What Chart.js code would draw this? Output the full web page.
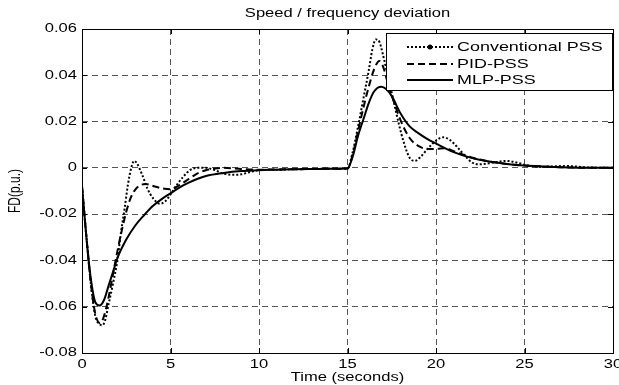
<!DOCTYPE html>
<html>
<head>
<meta charset="utf-8">
<script src="https://cdn.jsdelivr.net/npm/chart.js@4/dist/chart.umd.min.js"></script>
<style>
  html, body { margin: 0; padding: 0; background: #fff; }
  #wrap { width: 619px; height: 385px; position: relative; }
</style>
</head>
<body>
<div id="wrap"><canvas id="fd-chart"></canvas></div>
<script>
// Axis ticks
const xTicks = [0, 5, 10, 15, 20, 25, 30];
const yTicks = [-0.08, -0.06, -0.04, -0.02, 0, 0.02, 0.04, 0.06];

// Conventional PSS (dotted)
const convTime = [0, 0.25, 0.5, 0.75, 1.0, 1.15, 1.3, 1.5, 1.75, 2.0, 2.2, 2.4, 2.6, 2.8, 2.95, 3.1, 3.4, 3.7, 4.0, 4.4, 4.7, 5.0, 5.3, 5.7, 6.1, 6.5, 7.0, 7.5, 8.0, 8.5, 9.0, 9.5, 10, 11, 12, 13, 14, 15,
  15.3, 15.6, 15.9, 16.2, 16.4, 16.6, 16.8, 17.0, 17.3, 17.6, 17.9, 18.2, 18.5, 18.8, 19.1, 19.5, 20.0, 20.4, 20.8, 21.2, 21.6, 22.0, 22.4, 23, 24, 24.6, 25.2, 26, 27.4, 28.5, 30];
const convValues = [-0.008, -0.03, -0.05, -0.064, -0.0675, -0.068, -0.066, -0.059, -0.05, -0.04, -0.028, -0.018, -0.007, 0.0005, 0.003, 0.002, -0.003, -0.009, -0.013, -0.0155, -0.0145, -0.0115, -0.008, -0.004, -0.001, 0, 0, -0.001, -0.0025, -0.003, -0.0028, -0.0018, -0.001, -0.0008, -0.0006, -0.0005, -0.0004, -0.0003,
  0.007, 0.018, 0.03, 0.042, 0.051, 0.0555, 0.0545, 0.049, 0.039, 0.029, 0.019, 0.0105, 0.0045, 0.003, 0.0045, 0.008, 0.0118, 0.0132, 0.012, 0.009, 0.0055, 0.0025, 0.0015, 0.002, 0.003, 0.0022, 0.001, 0.0005, 0.0008, 0.0002, 0];

// PID-PSS (dashed)
const pidTime = [0, 0.25, 0.5, 0.75, 1.0, 1.2, 1.5, 1.75, 2.0, 2.25, 2.5, 2.75, 3.0, 3.3, 3.6, 4.0, 4.5, 5.0, 5.5, 6.0, 6.5, 7.0, 7.5, 8.0, 9.0, 10, 11, 12, 13, 14, 15,
  15.3, 15.6, 15.9, 16.2, 16.5, 16.8, 17.0, 17.3, 17.6, 18.0, 18.5, 19.0, 19.5, 20.0, 20.5, 21, 22, 23, 24, 25, 26, 27, 28, 30];
const pidValues = [-0.008, -0.03, -0.05, -0.063, -0.067, -0.065, -0.056, -0.046, -0.036, -0.027, -0.019, -0.013, -0.0095, -0.0075, -0.007, -0.0078, -0.0088, -0.0092, -0.0075, -0.005, -0.0025, -0.001, -0.0003, 0, -0.0005, -0.0008, -0.0007, -0.0006, -0.0005, -0.0004, -0.0003,
  0.006, 0.016, 0.026, 0.035, 0.0425, 0.0462, 0.044, 0.036, 0.029, 0.0205, 0.013, 0.0095, 0.0082, 0.0082, 0.0085, 0.0072, 0.0045, 0.0028, 0.0017, 0.001, 0.0006, 0.0003, 0.0001, 0];

// MLP-PSS (solid)
const mlpTime = [0, 0.25, 0.5, 0.75, 1.0, 1.25, 1.5, 1.75, 2.0, 2.5, 3.0, 3.5, 4.0, 4.5, 5.0, 5.5, 6.0, 6.5, 7.0, 8.0, 9.0, 10, 11, 12, 13, 14, 15,
  15.3, 15.6, 15.9, 16.2, 16.5, 16.9, 17.2, 17.5, 18.0, 18.5, 19.0, 19.5, 20.0, 21, 22, 23, 24, 25, 26, 27, 28, 30];
const mlpValues = [-0.008, -0.03, -0.048, -0.058, -0.0595, -0.057, -0.051, -0.045, -0.039, -0.031, -0.025, -0.0205, -0.0165, -0.0135, -0.011, -0.0085, -0.0065, -0.0048, -0.0035, -0.0022, -0.0014, -0.001, -0.0008, -0.0006, -0.0005, -0.0004, -0.0003,
  0.005, 0.014, 0.021, 0.028, 0.033, 0.0351, 0.034, 0.031, 0.0235, 0.018, 0.015, 0.0125, 0.0105, 0.0068, 0.0043, 0.0027, 0.0017, 0.001, 0.0006, 0.0003, 0.0001, 0];

const seriesNames = ["Conventional PSS", "PID-PSS", "MLP-PSS"];

function toPoints(ts, vs) {
  return ts.map((t, i) => ({ x: t, y: vs[i] }));
}

// text is horizontally stretched in the original figure
const SX = 1.38;
function stretchText(ctx, text, x, y, align, size) {
  ctx.save();
  ctx.font = size + "px 'Liberation Sans', Arial, sans-serif";
  ctx.fillStyle = "#000";
  ctx.textAlign = align;
  ctx.textBaseline = "middle";
  ctx.translate(x, y);
  ctx.scale(SX, 1);
  ctx.fillText(text, 0, 0);
  ctx.restore();
}

function yLabel(v) {
  if (Math.abs(v) < 1e-9) return "0";
  return v.toFixed(2);
}

// frame, inward ticks, labels, legend
const decorPlugin = {
  id: "decor",
  afterDraw(chart) {
    const ctx = chart.ctx;
    const a = chart.chartArea;
    const xs = chart.scales.x, ys = chart.scales.y;

    ctx.save();
    ctx.strokeStyle = "#000";
    ctx.lineWidth = 1;
    ctx.strokeRect(Math.round(a.left) + 0.5, Math.round(a.top) + 0.5, Math.round(a.right - a.left), Math.round(a.bottom - a.top));
    ctx.beginPath();
    xTicks.forEach(t => {
      const px = Math.round(xs.getPixelForValue(t)) + 0.5;
      ctx.moveTo(px, a.bottom); ctx.lineTo(px, a.bottom - 5);
      ctx.moveTo(px, a.top); ctx.lineTo(px, a.top + 5);
    });
    yTicks.forEach(v => {
      const py = Math.round(ys.getPixelForValue(v)) + 0.5;
      ctx.moveTo(a.left, py); ctx.lineTo(a.left + 5, py);
      ctx.moveTo(a.right, py); ctx.lineTo(a.right - 5, py);
    });
    ctx.stroke();
    ctx.restore();

    xTicks.forEach(t => stretchText(ctx, String(t), xs.getPixelForValue(t), a.bottom + 12, "center", 12));
    yTicks.forEach(v => stretchText(ctx, yLabel(v), a.left - 5, ys.getPixelForValue(v), "right", 12));

    const cx = (a.left + a.right) / 2;
    stretchText(ctx, "Speed / frequency deviation", cx, 14, "center", 12);
    stretchText(ctx, "Time (seconds)", cx, a.bottom + 25, "center", 12);

    // rotated y title
    ctx.save();
    ctx.font = "12px 'Liberation Sans', Arial, sans-serif";
    ctx.fillStyle = "#000";
    ctx.textAlign = "center";
    ctx.textBaseline = "middle";
    ctx.translate(15, (a.top + a.bottom) / 2);
    ctx.rotate(-Math.PI / 2);
    ctx.scale(1, SX);
    ctx.fillText("FD(p.u.)", 0, 0);
    ctx.restore();

    // legend box
    const bx = 386, by = 33, bw = 226, bh = 57;
    ctx.save();
    ctx.fillStyle = "#fff";
    ctx.fillRect(bx, by, bw, bh);
    ctx.strokeStyle = "#000";
    ctx.lineWidth = 1;
    ctx.strokeRect(bx + 0.5, by + 0.5, bw, bh);
    const rows = [47, 64, 80];
    chart.data.datasets.forEach((ds, i) => {
      ctx.save();
      ctx.strokeStyle = "#000";
      ctx.lineWidth = ds.borderWidth;
      ctx.setLineDash(ds.borderDash || []);
      ctx.beginPath();
      ctx.moveTo(407, rows[i]);
      ctx.lineTo(453, rows[i]);
      ctx.stroke();
      if (i === 0) {
        ctx.beginPath();
        ctx.fillStyle = "#000";
        ctx.arc(430, rows[i], 2.5, 0, Math.PI * 2);
        ctx.fill();
      }
      ctx.restore();
      stretchText(ctx, seriesNames[i], 457, rows[i], "left", 13);
    });
    ctx.restore();
  }
};

function zeroFit(scale) {
  if (scale.isHorizontal()) scale.height = 0; else scale.width = 0;
}

const gridOpts = { color: "#555", lineWidth: 1, drawTicks: false };
const borderOpts = { display: false, dash: [6, 4] };

const ctx = document.getElementById("fd-chart").getContext("2d");
const chart = new Chart(ctx, {
  type: "line",
  data: {
    datasets: [
      {
        label: seriesNames[0],
        data: toPoints(convTime, convValues),
        borderColor: "#000",
        borderWidth: 2,
        borderDash: [2, 2],
        cubicInterpolationMode: "monotone",
        pointRadius: 0
      },
      {
        label: seriesNames[1],
        data: toPoints(pidTime, pidValues),
        borderColor: "#000",
        borderWidth: 2,
        borderDash: [7, 4],
        cubicInterpolationMode: "monotone",
        pointRadius: 0
      },
      {
        label: seriesNames[2],
        data: toPoints(mlpTime, mlpValues),
        borderColor: "#000",
        borderWidth: 2,
        cubicInterpolationMode: "monotone",
        pointRadius: 0
      }
    ]
  },
  options: {
    responsive: true,
    maintainAspectRatio: false,
    animation: false,
    layout: { padding: { left: 82, right: 6, top: 29, bottom: 32 } },
    plugins: {
      legend: { display: false },
      tooltip: { enabled: false }
    },
    scales: {
      x: {
        type: "linear",
        min: 0,
        max: 30,
        afterFit: zeroFit,
        afterBuildTicks: s => { s.ticks = xTicks.map(v => ({ value: v })); },
        ticks: { display: false },
        grid: gridOpts,
        border: borderOpts
      },
      y: {
        type: "linear",
        min: -0.08,
        max: 0.06,
        afterFit: zeroFit,
        afterBuildTicks: s => { s.ticks = yTicks.map(v => ({ value: v })); },
        ticks: { display: false },
        grid: gridOpts,
        border: borderOpts
      }
    }
  },
  plugins: [decorPlugin]
});
</script>
</body>
</html>
